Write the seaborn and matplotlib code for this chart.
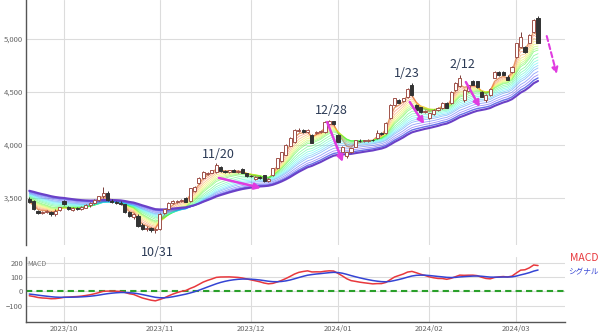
import numpy as np
import pandas as pd
import matplotlib
matplotlib.use("Agg")
import matplotlib.pyplot as plt
import seaborn as sns
from matplotlib.colors import hsv_to_rgb
from matplotlib.ticker import FuncFormatter

# ---------------- data ----------------
opens = [3490, 3470, 3375, 3355, 3365, 3372, 3345, 3385, 3470, 3412,
         3390, 3405, 3398, 3410, 3430, 3450, 3485, 3515, 3550, 3475,
         3462, 3455, 3440, 3370, 3318, 3335, 3250, 3205, 3222, 3195,
         3205, 3360, 3400, 3450, 3465, 3472, 3502, 3470, 3565, 3640,
         3690, 3730, 3740, 3745, 3790, 3755, 3745, 3760, 3750, 3770,
         3732, 3710, 3682, 3700, 3715, 3660, 3715, 3785, 3845, 3910,
         3995, 4030, 4130, 4145, 4125, 4098, 4110, 4120, 4125, 4195,
         4222, 4098, 3935, 3892, 3935, 3985, 4042, 4035, 4040, 4052,
         4062, 4110, 4110, 4255, 4380, 4425, 4418, 4450, 4566, 4375,
         4355, 4315, 4255, 4290, 4330, 4350, 4400, 4395, 4520, 4555,
         4425, 4510, 4600, 4600, 4500, 4425, 4470, 4635, 4690, 4690,
         4645, 4690, 4830, 4925, 4925, 4965, 5065, 5195]
highs = [3510, 3480, 3390, 3382, 3388, 3380, 3392, 3420, 3482, 3422,
         3412, 3415, 3422, 3442, 3458, 3492, 3522, 3600, 3562, 3490,
         3476, 3470, 3446, 3382, 3362, 3345, 3262, 3236, 3230, 3215,
         3360, 3400, 3462, 3478, 3482, 3490, 3512, 3598, 3610, 3698,
         3752, 3750, 3768, 3832, 3798, 3762, 3768, 3770, 3765, 3780,
         3740, 3720, 3708, 3712, 3722, 3690, 3788, 3880, 3935, 4005,
         4078, 4148, 4158, 4152, 4150, 4108, 4132, 4140, 4222, 4238,
         4230, 4105, 3992, 3935, 3975, 4050, 4055, 4052, 4058, 4060,
         4140, 4122, 4218, 4385, 4448, 4435, 4448, 4538, 4582, 4385,
         4362, 4332, 4305, 4336, 4358, 4405, 4410, 4505, 4590, 4665,
         4530, 4570, 4612, 4608, 4512, 4478, 4540, 4700, 4700, 4702,
         4660, 4745, 4965, 5062, 4935, 5045, 5185, 5218]
lows = [3455, 3388, 3345, 3345, 3355, 3332, 3335, 3375, 3430, 3385,
        3380, 3388, 3390, 3405, 3420, 3445, 3475, 3505, 3468, 3455,
        3440, 3430, 3362, 3318, 3300, 3228, 3198, 3192, 3184, 3168,
        3200, 3350, 3392, 3440, 3455, 3462, 3460, 3465, 3555, 3632,
        3682, 3722, 3732, 3740, 3745, 3738, 3740, 3742, 3740, 3735,
        3702, 3695, 3672, 3682, 3650, 3652, 3708, 3778, 3838, 3902,
        3988, 4022, 4120, 4118, 4115, 4015, 4100, 4110, 4118, 4188,
        4190, 4025, 3925, 3875, 3928, 3978, 4025, 4028, 4030, 4038,
        4055, 4095, 4105, 4248, 4372, 4392, 4410, 4445, 4465, 4325,
        4305, 4300, 4245, 4282, 4322, 4342, 4345, 4388, 4512, 4548,
        4410, 4500, 4562, 4540, 4450, 4408, 4462, 4628, 4655, 4658,
        4610, 4682, 4822, 4918, 4872, 4958, 5058, 4958]
closes = [3465, 3395, 3355, 3372, 3378, 3345, 3382, 3412, 3440, 3395,
          3405, 3398, 3414, 3436, 3452, 3486, 3515, 3550, 3478, 3465,
          3455, 3442, 3372, 3330, 3350, 3240, 3210, 3222, 3195, 3205,
          3352, 3392, 3455, 3470, 3476, 3482, 3466, 3590, 3602, 3690,
          3745, 3740, 3760, 3812, 3752, 3746, 3760, 3750, 3756, 3740,
          3710, 3705, 3700, 3690, 3656, 3682, 3780, 3875, 3930, 3998,
          4070, 4140, 4145, 4125, 4140, 4022, 4125, 4132, 4215, 4222,
          4196, 4032, 3985, 3930, 3970, 4045, 4035, 4046, 4050, 4045,
          4115, 4105, 4210, 4380, 4440, 4400, 4440, 4530, 4472, 4332,
          4310, 4325, 4300, 4330, 4350, 4400, 4352, 4500, 4585, 4630,
          4520, 4562, 4570, 4545, 4455, 4470, 4532, 4690, 4660, 4665,
          4618, 4740, 4960, 5020, 4880, 5040, 5180, 4965]

month_tick_idx = [8, 30, 51, 71, 92, 112]
month_labels = ["2023/10", "2023/11", "2023/12", "2024/01", "2024/02", "2024/03"]
price_ticks = [3500, 4000, 4500, 5000]
macd_ticks = [-100, 0, 100, 200]

ribbon_spans = [3, 4, 5, 6, 7, 8, 9, 10, 12, 14, 16, 18, 20, 22, 25, 28, 31, 34]
ribbon_seeds = [3465, 3472, 3480, 3487, 3494, 3500, 3507, 3514, 3521, 3527,
                3533, 3539, 3545, 3551, 3557, 3563, 3569, 3575]
macd_fast_seed = 3490
macd_slow_seed = 3520
signal_seed = -15

callouts = ["10/31", "11/20", "12/28", "1/23", "2/12"]
callout_x = [29.4, 43.4, 69.4, 86.9, 99.5]
callout_y = [2990, 3915, 4330, 4670, 4755]
arrow_from = [(43.6, 3690), (68.5, 4217), (87.5, 4406), (100.4, 4594)]
arrow_to = [(53.3, 3595), (72.1, 3840), (90.8, 4198), (103.6, 4358)]
dashed_from = (119.0, 5028)
dashed_to = (121.3, 4670)

# ---------------- derived ----------------
def ema_seeded(vals, span, seed):
    a = 2.0 / (span + 1)
    e = seed
    out = []
    for v in vals:
        e = a * v + (1 - a) * e
        out.append(e)
    return np.array(out)

n = len(closes)
idx = np.arange(n)
df = pd.DataFrame({"i": idx, "open": opens, "high": highs, "low": lows, "close": closes})
ema12 = ema_seeded(closes, 12, macd_fast_seed)
ema26 = ema_seeded(closes, 26, macd_slow_seed)
macd = ema12 - ema26
signal = ema_seeded(macd, 9, signal_seed)
df["macd"] = macd
df["signal"] = signal

sns.set_theme(style="white")
plt.rcParams["font.family"] = ["Noto Sans CJK JP", "DejaVu Sans"]

W, H = 600, 333
fig = plt.figure(figsize=(6.0, 3.33), dpi=100)
ax = fig.add_axes([26 / W, 1 - 245 / H, (565 - 26) / W, 245 / H])
ax2 = fig.add_axes([26 / W, 1 - 322 / H, (565 - 26) / W, (322 - 257) / H])

XL = (-0.75, 123.2)

# ribbons
K = len(ribbon_spans)
for k, (sp, sd) in enumerate(zip(ribbon_spans, ribbon_seeds)):
    t = k / (K - 1)
    col = hsv_to_rgb((0.78 * t, 0.85, 0.97))
    lw = 0.6
    alpha = 0.5
    if k == K - 1:
        col = (0.42, 0.25, 0.78); lw = 1.5; alpha = 1.0
    elif k == K - 2:
        col = (0.3, 0.35, 0.9); lw = 1.0; alpha = 0.85
    elif k == 0:
        col = (0.88, 0.5, 0.25); lw = 1.0; alpha = 0.8
    line = ema_seeded(closes, sp, sd)
    sns.lineplot(x=idx, y=line, ax=ax, color=col, lw=lw, alpha=alpha, zorder=1 + k * 0.01)

# candles
up = df["close"] >= df["open"]
for sub, face, edge, wick in [(df[up], "white", "#a0524a", "#7a3f3a"),
                              (df[~up], "#333333", "#333333", "#333333")]:
    ax.vlines(sub["i"], sub["low"], sub["high"], color=wick, lw=0.7, zorder=3)
    ax.bar(sub["i"], (sub["close"] - sub["open"]).abs().clip(lower=4),
           bottom=np.minimum(sub["open"], sub["close"]), width=0.72,
           color=face, edgecolor=edge, linewidth=0.7, zorder=4)

ax.set_xlim(*XL)
ax.set_ylim(3057, 5368)
ax.set_yticks(price_ticks)
ax.yaxis.set_major_formatter(FuncFormatter(lambda v, p: f"{int(v):,}"))
ax.set_xticks(month_tick_idx)
ax.set_xticklabels([])
ax.grid(True, color="#dcdcdc", lw=0.8)
ax.set_axisbelow(True)
for s in ["top", "right", "bottom"]:
    ax.spines[s].set_visible(False)
ax.spines["left"].set_color("#555555")
ax.spines["left"].set_linewidth(1.0)
ax.tick_params(axis="y", labelsize=5.5, colors="#666666", length=0, pad=2)
ax.tick_params(axis="x", length=0)
ax.set_xlabel(""); ax.set_ylabel("")

text_col = "#2b3a55"
for lab, x, y in zip(callouts, callout_x, callout_y):
    ax.text(x, y, lab, ha="center", va="center", fontsize=9, color=text_col,
            clip_on=False, zorder=6)
arrow_col = "#e03ce0"
for f, t in zip(arrow_from, arrow_to):
    ax.annotate("", xy=t, xytext=f,
                arrowprops=dict(arrowstyle="-|>", color=arrow_col, lw=1.8,
                                mutation_scale=9, shrinkA=0, shrinkB=0), zorder=7)
ax.annotate("", xy=dashed_to, xytext=dashed_from,
            arrowprops=dict(arrowstyle="-|>", color=arrow_col, lw=1.5, ls=(0, (2.5, 1.5)),
                            mutation_scale=9, shrinkA=0, shrinkB=0), zorder=7,
            annotation_clip=False)

# MACD panel
sns.lineplot(data=df, x="i", y="macd", ax=ax2, color="#e8383d", lw=1.1, zorder=3)
sns.lineplot(data=df, x="i", y="signal", ax=ax2, color="#3444d4", lw=1.1, zorder=3)
ax2.axhline(0, color="#2aa02a", lw=1.5, ls=(0, (3, 2)), zorder=2)
ax2.set_xlim(*XL)
ax2.set_ylim(-211, 238)
ax2.set_yticks(macd_ticks)
ax2.set_xticks(month_tick_idx)
ax2.set_xticklabels(month_labels)
ax2.grid(True, color="#dcdcdc", lw=0.8)
ax2.set_axisbelow(True)
for s in ["top", "right"]:
    ax2.spines[s].set_visible(False)
for s in ["left", "bottom"]:
    ax2.spines[s].set_color("#555555")
    ax2.spines[s].set_linewidth(1.0)
ax2.tick_params(labelsize=5.5, colors="#666666", length=0, pad=2)
ax2.set_xlabel(""); ax2.set_ylabel("")
ax2.text(0.003, 0.9, "MACD", transform=ax2.transAxes, fontsize=5, color="#777777",
         ha="left", va="center")

fig.text(570 / W, 1 - 258 / H, "MACD", color="#e8383d", fontsize=7.5, ha="left", va="center")
fig.text(568 / W, 1 - 272 / H, "シグナル", color="#3444d4", fontsize=5.5, ha="left", va="center",
         family=["Noto Sans CJK JP", "DejaVu Sans"])

fig.savefig("out.png", dpi=100)
